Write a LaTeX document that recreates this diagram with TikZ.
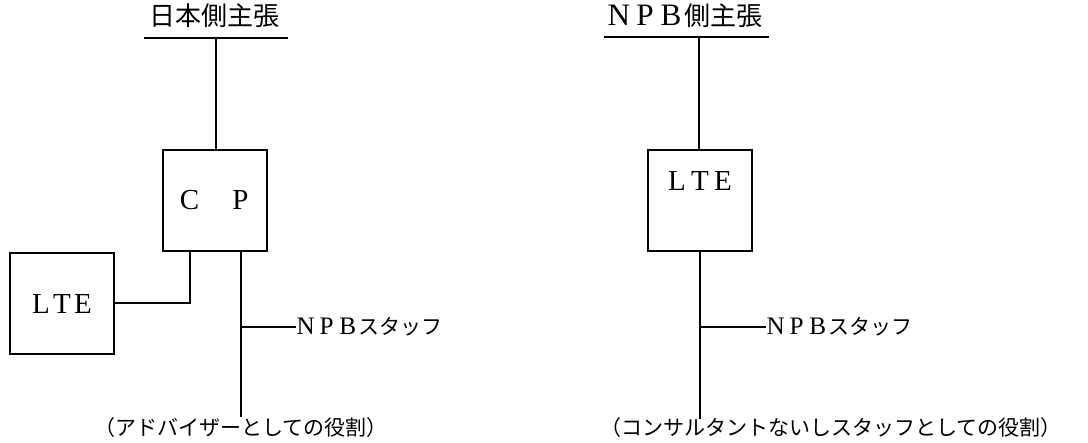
\documentclass[tikz,border=0pt]{standalone}
\usepackage{fontspec}
\setmainfont{Liberation Serif}
\newfontfamily\cjk{Noto Sans CJK JP}
\newfontfamily\latn{Liberation Serif}
\newfontfamily\latnbig[Scale=1.2]{Liberation Serif}
\newcommand\fwl[2][1em]{\makebox[#1][c]{\latnbig #2}}
\tikzset{
  ln/.style={line width=1.7pt, line cap=rect},
  boxn/.style={draw, line width=1.7pt, minimum width=104pt, minimum height=101pt, inner sep=0pt},
  ttl/.style={font=\cjk\fontsize{26}{28}\selectfont, inner sep=0pt},
  lbl/.style={font=\cjk\fontsize{21}{24}\selectfont, inner sep=0pt},
  boxt/.style={font=\latn\fontsize{29}{31}\selectfont, inner sep=0pt},
}
\begin{document}
\begin{tikzpicture}[x=1pt,y=-1pt]
\useasboundingbox (0,0) rectangle (1088,443);
% ---------- left ----------
\node[ttl] (t1) at (214,16) {日本側主張};
\coordinate (u1a) at (145,38);
\coordinate (u1b) at (287,38);
\draw[ln] (u1a) -- (u1b);
\node[boxn] (cp) at (215,200.5) {};
\node[boxt] (cptext) at (215,200) {\makebox[51pt][c]{C}\makebox[51pt][c]{P}};
\node[boxn] (lte1) at (62,303.5) {};
\node[boxt] (lte1t) at (62,304) {\makebox[21pt]{L}\makebox[21pt]{T}\makebox[21pt]{E}};
\coordinate (top1) at (216,38);
\draw[ln] (top1) -- (top1 |- cp.north);
\coordinate (cpA) at (190,251);
\coordinate (cpB) at (241,251);
\coordinate (elbow1) at (190,303);
\draw[ln] (cpA) -- (elbow1) -- (lte1.east |- elbow1);
\coordinate (bot1) at (241,416);
\coordinate (br1) at (241,327);
\draw[ln] (cpB) -- (bot1);
\node[lbl, anchor=west] (npb1) at (295,327) {\fwl{N}\fwl{P}\fwl{B}スタッフ};
\draw[ln] (br1) -- (npb1.west);
\node[lbl] (role1) at (241,428) {（アドバイザーとしての役割）};
% ---------- right ----------
\node[ttl] (t2) at (684,16) {\fwl{N}\fwl{P}\fwl{B}側主張};
\coordinate (u2a) at (605,37);
\coordinate (u2b) at (768,37);
\draw[ln] (u2a) -- (u2b);
\node[boxn] (lte2) at (700,200.5) {};
\node[boxt] (lte2t) at (700,181) {\makebox[23pt]{L}\makebox[23pt]{T}\makebox[23pt]{E}};
\coordinate (top2) at (699,37);
\draw[ln] (top2) -- (top2 |- lte2.north);
\coordinate (bot2) at (700,418);
\coordinate (br2) at (700,327);
\draw[ln] (lte2.south) -- (bot2);
\node[lbl, anchor=west] (npb2) at (765,327) {\fwl{N}\fwl{P}\fwl{B}スタッフ};
\draw[ln] (br2) -- (npb2.west);
\node[lbl] (role2) at (831,428) {（コンサルタントないしスタッフとしての役割）};
\end{tikzpicture}
\end{document}
